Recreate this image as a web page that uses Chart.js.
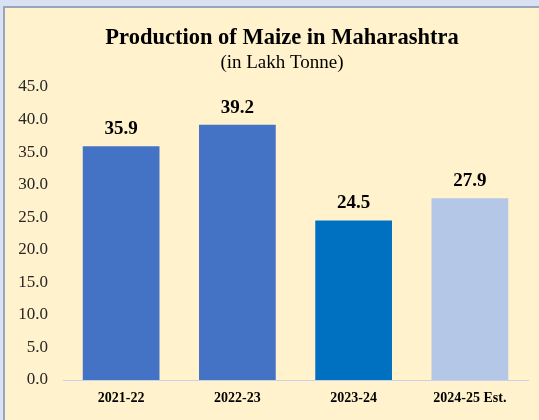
<!DOCTYPE html>
<html>
<head>
<meta charset="utf-8">
<script src="https://cdn.jsdelivr.net/npm/chart.js@4"></script>
<style>
  html, body { margin: 0; padding: 0; background: #d9e1f2; width: 539px; height: 420px; overflow: hidden; }
  #panel {
    position: absolute; left: 3px; top: 6px; right: 0; bottom: 0;
    border-left: 2px solid #97a6bd; border-top: 2px solid #97a6bd;
    background: #fff2cc;
  }
  #chart { position: absolute; left: 0; top: 0; }
</style>
</head>
<body>
<div id="panel"></div>
<canvas id="chart" width="539" height="420"></canvas>
<script>
const years = ['2021-22', '2022-23', '2023-24', '2024-25 Est.']
const production = [35.9, 39.2, 24.5, 27.9] // lakh tonne
const barColors = ['#4472c4', '#4472c4', '#0070c0', '#b4c7e7']
const titleText = 'Production of Maize in Maharashtra'
const subtitleText = '(in Lakh Tonne)'

const serif = 'Liberation Serif, Times New Roman, serif'

// title block, centred a bit right of the canvas middle like the original
const titles = {
  id: 'titles',
  afterDraw(chart) {
    const ctx = chart.ctx
    ctx.save()
    ctx.fillStyle = '#000'
    ctx.textAlign = 'center'
    ctx.textBaseline = 'middle'
    ctx.font = 'bold 22.5px ' + serif
    ctx.fillText(titleText, 282, 38.6)
    ctx.font = '19px ' + serif
    ctx.fillText(subtitleText, 282, 62.6)
    ctx.restore()
  }
}

// values above the bars
const valueLabels = {
  id: 'valueLabels',
  afterDatasetsDraw(chart) {
    const ctx = chart.ctx
    const meta = chart.getDatasetMeta(0)
    ctx.save()
    ctx.font = 'bold 19px ' + serif
    ctx.fillStyle = '#000'
    ctx.textAlign = 'center'
    ctx.textBaseline = 'middle'
    meta.data.forEach((bar, i) => {
      ctx.fillText(production[i].toFixed(1), bar.x, bar.y - 17)
    })
    ctx.restore()
  }
}

new Chart(document.getElementById('chart'), {
  type: 'bar',
  data: {
    labels: years,
    datasets: [{
      data: production,
      backgroundColor: barColors,
      borderWidth: 0,
      categoryPercentage: 1,
      barPercentage: 0.66
    }]
  },
  options: {
    responsive: false,
    animation: false,
    layout: { padding: { left: 0, right: 11, top: 87, bottom: 0 } },
    plugins: {
      legend: { display: false },
      tooltip: { enabled: false }
    },
    scales: {
      x: {
        grid: { display: false, drawTicks: false },
        border: { display: true, color: '#c5d2e8', width: 1 },
        ticks: {
          color: '#000',
          padding: 10,
          font: { family: serif, size: 14, weight: 'bold' }
        },
        afterFit: (scale) => { scale.height = 40 }
      },
      y: {
        min: 0,
        max: 45,
        grid: { display: false, drawTicks: false },
        border: { display: false },
        ticks: {
          stepSize: 5,
          color: '#262626',
          padding: 15,
          font: { family: serif, size: 17 },
          callback: (v) => v.toFixed(1)
        },
        afterFit: (scale) => { scale.width = 63 }
      }
    }
  },
  plugins: [valueLabels, titles]
})
</script>
</body>
</html>
